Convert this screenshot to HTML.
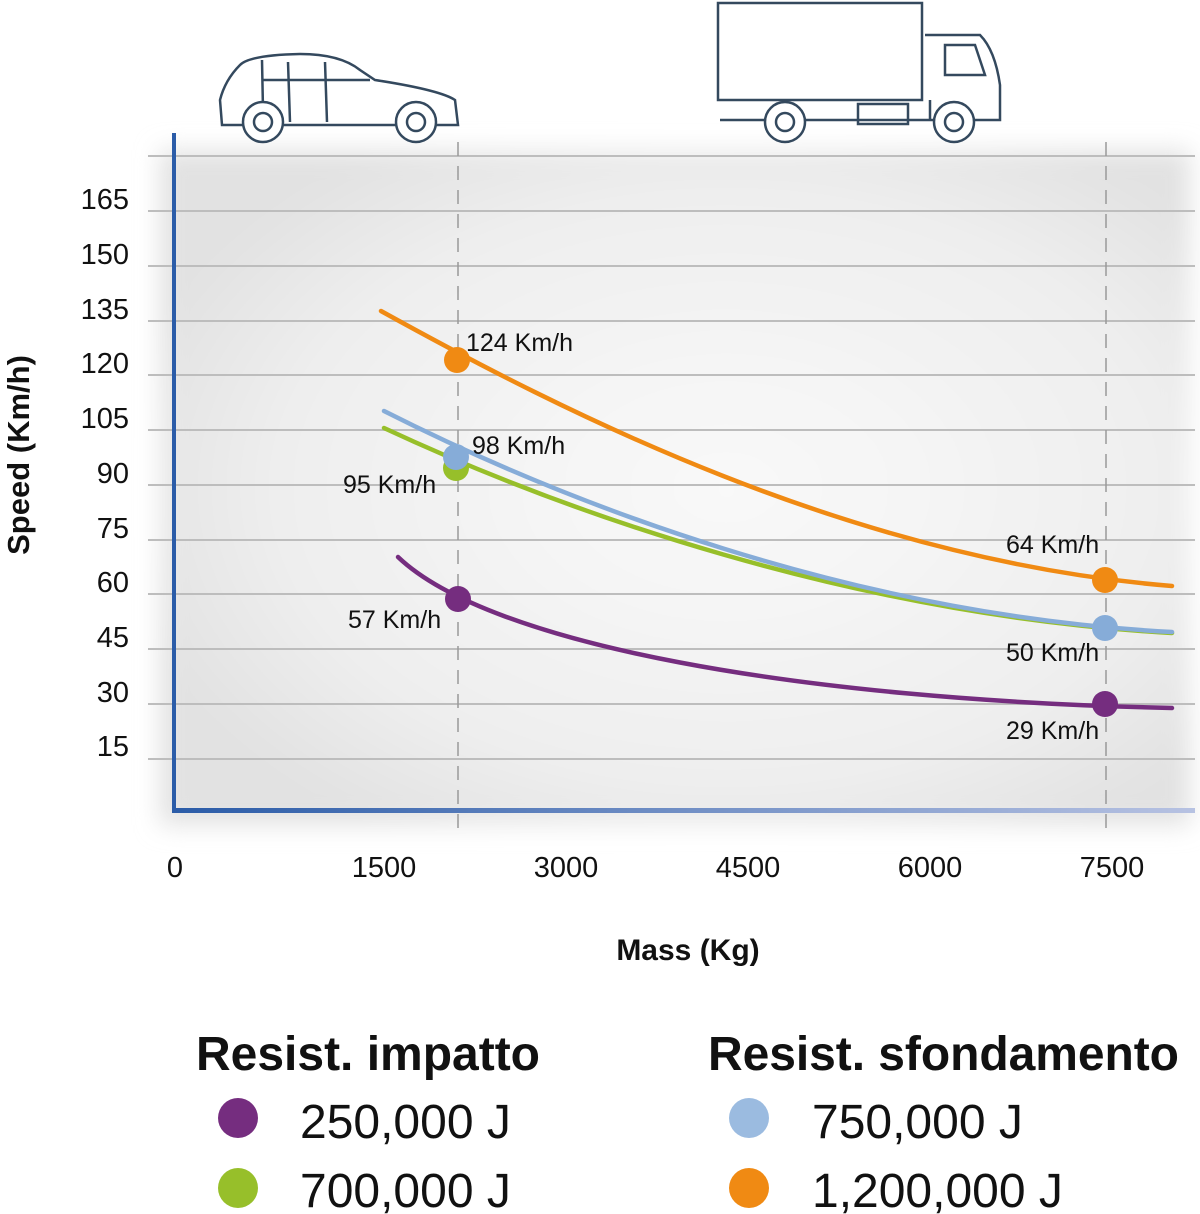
<!DOCTYPE html>
<html><head><meta charset="utf-8"><style>
body{margin:0;background:#fff;}
svg{display:block;font-family:"Liberation Sans",sans-serif;}
</style></head><body>
<svg width="1200" height="1214" viewBox="0 0 1200 1214">
<defs>
<radialGradient id="bg" cx="0.55" cy="0.5" r="0.6">
<stop offset="0" stop-color="#f9f9f9"/><stop offset="0.7" stop-color="#efefef"/><stop offset="1" stop-color="#e2e2e2"/>
</radialGradient>
<linearGradient id="ax" x1="0" x2="1"><stop offset="0" stop-color="#2b5ca8"/><stop offset="1" stop-color="#b7c2e2"/></linearGradient>
<filter id="bl"><feGaussianBlur stdDeviation="12"/></filter>
</defs>
<rect x="160" y="150" width="1030" height="675" fill="url(#bg)" filter="url(#bl)"/>
<g stroke="#bdbdbd" stroke-width="2">
<line x1="148" y1="156" x2="1195" y2="156"/><line x1="148" y1="211" x2="1195" y2="211"/>
<line x1="148" y1="266" x2="1195" y2="266"/><line x1="148" y1="321" x2="1195" y2="321"/>
<line x1="148" y1="375" x2="1195" y2="375"/><line x1="148" y1="430" x2="1195" y2="430"/>
<line x1="148" y1="485" x2="1195" y2="485"/><line x1="148" y1="540" x2="1195" y2="540"/>
<line x1="148" y1="594" x2="1195" y2="594"/><line x1="148" y1="649" x2="1195" y2="649"/>
<line x1="148" y1="704" x2="1195" y2="704"/><line x1="148" y1="759" x2="1195" y2="759"/>
</g>
<g stroke="#999" stroke-width="1.5" stroke-dasharray="14,10">
<line x1="458" y1="142" x2="458" y2="835"/><line x1="1106" y1="142" x2="1106" y2="835"/>
</g>
<line x1="174" y1="133" x2="174" y2="812" stroke="#2b5ca8" stroke-width="4"/>
<rect x="172" y="808" width="1023" height="5" fill="url(#ax)"/>
<g fill="none" stroke-width="4.5" stroke-linecap="round">
<path d="M381,311 C560,410 850,560 1172,586" stroke="#f08a13"/>
<path d="M384,428 C560,510 850,615 1172,633" stroke="#97bf2a"/>
<path d="M384,411 C560,500 850,615 1172,632" stroke="#86acd8"/>
<path d="M398,557 C490,645 800,700 1172,708" stroke="#752d7f"/>
</g>
<circle cx="457" cy="360" r="13" fill="#f08a13"/><circle cx="1105" cy="580" r="13" fill="#f08a13"/>
<circle cx="456" cy="468" r="13" fill="#97bf2a"/>
<circle cx="456" cy="457" r="13" fill="#86acd8"/><circle cx="1105" cy="628" r="13" fill="#86acd8"/>
<circle cx="458" cy="599" r="13" fill="#752d7f"/><circle cx="1105" cy="704" r="13" fill="#752d7f"/>
<g font-size="25" fill="#111">
<text x="466" y="351">124 Km/h</text><text x="472" y="454">98 Km/h</text>
<text x="343" y="493">95 Km/h</text><text x="348" y="628">57 Km/h</text>
<text x="1006" y="553">64 Km/h</text><text x="1006" y="661">50 Km/h</text>
<text x="1006" y="739">29 Km/h</text>
</g>
<g font-size="29" fill="#111" text-anchor="end">
<text x="129" y="209">165</text><text x="129" y="264">150</text><text x="129" y="319">135</text>
<text x="129" y="373">120</text><text x="129" y="428">105</text><text x="129" y="483">90</text>
<text x="129" y="538">75</text><text x="129" y="592">60</text><text x="129" y="647">45</text>
<text x="129" y="702">30</text><text x="129" y="756">15</text>
</g>
<g font-size="29" fill="#111" text-anchor="middle">
<text x="175" y="877">0</text><text x="384" y="877">1500</text><text x="566" y="877">3000</text>
<text x="748" y="877">4500</text><text x="930" y="877">6000</text><text x="1112" y="877">7500</text>
</g>
<text x="688" y="960" font-size="30" font-weight="bold" text-anchor="middle" fill="#111">Mass (Kg)</text>
<text transform="translate(29,455) rotate(-90)" font-size="31" font-weight="bold" text-anchor="middle" fill="#111">Speed (Km/h)</text>
<!-- car -->
<g fill="none" stroke="#34495e" stroke-width="2.5">
<path d="M222,125 L220,100 Q225,80 240,65 Q250,55 300,54 Q340,54 360,70 L375,80 Q440,90 455,100 L458,125 Z"/>
<path d="M262,60 L263,110 M288,62 L290,122 M325,62 L327,122 M263,80 L370,80"/>
<circle cx="263" cy="122" r="20" fill="#fff"/><circle cx="263" cy="122" r="9"/>
<circle cx="416" cy="122" r="20" fill="#fff"/><circle cx="416" cy="122" r="9"/>
</g>
<!-- truck -->
<g fill="none" stroke="#34495e" stroke-width="2.5">
<rect x="718" y="3" width="204" height="97"/>
<path d="M925,35 L980,35 Q995,50 1000,85 L1000,120 L720,120 M930,100 L930,120"/>
<path d="M945,45 L975,45 L985,75 L945,75 Z"/>
<rect x="858" y="104" width="50" height="20"/>
<circle cx="785" cy="122" r="20" fill="#fff"/><circle cx="785" cy="122" r="9"/>
<circle cx="954" cy="122" r="20" fill="#fff"/><circle cx="954" cy="122" r="9"/>
</g>
<g font-size="48" font-weight="bold" fill="#111">
<text x="196" y="1070" textLength="344">Resist. impatto</text><text x="708" y="1070" textLength="471">Resist. sfondamento</text>
</g>
<circle cx="238" cy="1118" r="20" fill="#752d7f"/><circle cx="238" cy="1188" r="20" fill="#97bf2a"/>
<circle cx="749" cy="1118" r="20" fill="#9bbbe0"/><circle cx="749" cy="1188" r="20" fill="#f08a13"/>
<g font-size="48" fill="#111">
<text x="300" y="1138">250,000 J</text><text x="300" y="1207">700,000 J</text>
<text x="812" y="1138">750,000 J</text><text x="812" y="1207">1,200,000 J</text>
</g>
</svg>
</body></html>
